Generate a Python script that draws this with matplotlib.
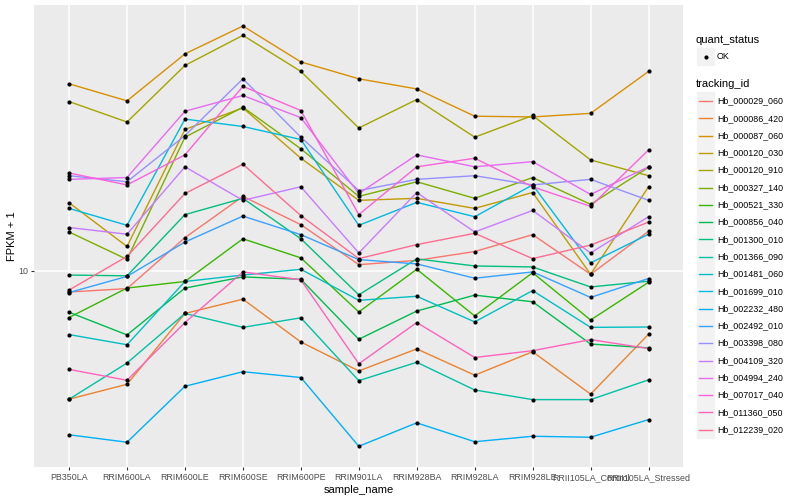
import numpy as np
import matplotlib
matplotlib.use("Agg")
import matplotlib.pyplot as plt
from matplotlib.lines import Line2D
from matplotlib.patches import Rectangle
from matplotlib.ticker import NullLocator

plt.rcParams['font.family'] = ['Liberation Sans', 'DejaVu Sans']

samples = ["PB350LA", "RRIM600LA", "RRIM600LE", "RRIM600SE", "RRIM600PE", "RRIM901LA",
           "RRIM928BA", "RRIM928LA", "RRIM928LE", "RRII105LA_Control", "RRII105LA_Stressed"]

# FPKM + 1 por gen
hb_000029_060 = [9.21, 9.33, 11.35, 13.3, 11.93, 10.23, 10.4, 10.76, 11.48, 9.86, 11.63]
hb_000086_420 = [6.10, 6.46, 8.48, 8.96, 7.60, 6.80, 7.40, 6.69, 7.32, 6.22, 7.83]
hb_000087_060 = [20.5, 19.2, 23.0, 25.6, 22.3, 20.9, 20.1, 18.1, 18.05, 18.3, 21.5]
hb_000120_030 = [12.98, 10.97, 17.2, 18.69, 15.4, 13.1, 13.2, 12.7, 13.5, 9.86, 13.8]
hb_000120_910 = [19.15, 17.7, 22.0, 24.7, 21.5, 17.3, 19.3, 16.7, 18.15, 15.3, 14.4]
hb_000327_140 = [11.6, 10.44, 16.7, 18.74, 15.97, 13.3, 14.07, 13.2, 14.3, 12.9, 14.87]
hb_000521_330 = [8.35, 9.35, 9.59, 11.3, 10.5, 8.53, 10.05, 8.40, 9.92, 8.27, 9.56]
hb_000856_040 = [8.52, 7.81, 9.35, 9.76, 9.67, 7.68, 8.56, 9.10, 8.87, 7.54, 7.43]
hb_001300_010 = [9.83, 9.80, 12.4, 13.2, 11.3, 9.11, 10.46, 10.18, 10.14, 9.39, 9.60]
hb_001366_090 = [6.10, 7.01, 8.48, 8.04, 8.34, 6.55, 7.03, 6.32, 6.09, 6.09, 6.57]
hb_001481_060 = [7.82, 7.52, 9.59, 9.83, 10.05, 8.92, 9.06, 8.21, 9.26, 8.04, 8.05]
hb_001699_010 = [12.7, 11.9, 17.9, 17.4, 16.55, 11.9, 13.0, 12.3, 13.9, 10.3, 11.5]
hb_002232_480 = [5.32, 5.17, 6.41, 6.78, 6.63, 5.09, 5.57, 5.18, 5.29, 5.27, 5.64]
hb_002492_010 = [9.19, 9.78, 11.16, 12.33, 11.48, 10.43, 10.26, 9.71, 9.95, 9.02, 9.70]
hb_003398_080 = [14.4, 14.07, 16.8, 20.9, 16.7, 13.6, 14.2, 14.4, 13.9, 14.2, 13.1]
hb_004109_320 = [11.8, 11.5, 14.9, 13.1, 13.8, 10.7, 13.5, 11.6, 12.6, 10.7, 12.3]
hb_004994_240 = [14.2, 14.3, 18.45, 19.6, 18.0, 13.45, 15.6, 14.9, 15.2, 13.4, 14.9]
hb_007017_040 = [14.55, 13.9, 15.6, 20.3, 18.5, 12.4, 14.9, 15.4, 13.8, 12.8, 15.9]
hb_011360_050 = [6.84, 6.56, 8.19, 9.95, 9.65, 6.99, 8.19, 7.16, 7.35, 7.67, 7.41]
hb_012239_020 = [9.28, 10.56, 13.45, 15.05, 12.35, 10.47, 11.05, 11.54, 10.47, 11.03, 12.05]

genes = ["Hb_000029_060", "Hb_000086_420", "Hb_000087_060", "Hb_000120_030", "Hb_000120_910",
         "Hb_000327_140", "Hb_000521_330", "Hb_000856_040", "Hb_001300_010", "Hb_001366_090",
         "Hb_001481_060", "Hb_001699_010", "Hb_002232_480", "Hb_002492_010", "Hb_003398_080",
         "Hb_004109_320", "Hb_004994_240", "Hb_007017_040", "Hb_011360_050", "Hb_012239_020"]
series = [hb_000029_060, hb_000086_420, hb_000087_060, hb_000120_030, hb_000120_910,
          hb_000327_140, hb_000521_330, hb_000856_040, hb_001300_010, hb_001366_090,
          hb_001481_060, hb_001699_010, hb_002232_480, hb_002492_010, hb_003398_080,
          hb_004109_320, hb_004994_240, hb_007017_040, hb_011360_050, hb_012239_020]

# paleta tipo ggplot (hue_pal, 20 colores)
colores = ["#F8766D", "#EA8331", "#D89000", "#C09B00", "#A3A500", "#7CAE00", "#39B600",
           "#00BB4E", "#00BF7D", "#00C1A3", "#00BFC4", "#00BAE0", "#00B0F6", "#35A2FF",
           "#9590FF", "#C77CFF", "#E76BF3", "#FA62DB", "#FF62BC", "#FF6C91"]

W, H = 800, 500
fig = plt.figure(figsize=(8, 5), dpi=100)
ax = fig.add_axes([34.3 / W, 1 - 467.3 / H, (683.3 - 34.3) / W, (467.3 - 5) / H])
ax.set_facecolor("#EBEBEB")

x = np.arange(len(samples))
for vals, col in zip(series, colores):
    ax.plot(x, vals, color=col, lw=1.0, zorder=2)
for vals in series:
    ax.plot(x, vals, "o", color="black", ms=3.0, mew=0, zorder=3)

ax.set_yscale("log")
todos = np.concatenate([np.array(v) for v in series])
lo, hi = np.log10(todos.min()), np.log10(todos.max())
pad = 0.05 * (hi - lo)
ax.set_ylim(10 ** (lo - pad), 10 ** (hi + pad))
ax.set_xlim(-0.6, len(samples) - 0.4)

ax.set_yticks([10])
ax.set_yticklabels(["10"])
ax.yaxis.set_minor_locator(NullLocator())
ax.set_xticks(x)
ax.set_xticklabels(samples)

ax.grid(True, color="white", lw=1.1)
ax.set_axisbelow(True)
for s in ax.spines.values():
    s.set_visible(False)
ax.tick_params(axis="both", colors="#333333", labelcolor="#4D4D4D", labelsize=6.4,
               length=2.2, width=0.8, pad=1.8)
ax.set_xlabel("sample_name", fontsize=8, labelpad=2)
ax.set_ylabel("FPKM + 1", fontsize=8, labelpad=1)


def fx(px):
    return px / W


def fy(py):
    return 1 - py / H


# leyenda manual estilo ggplot
key = 17.3
fig.text(fx(696), fy(40), "quant_status", fontsize=8, va="center", ha="left")
fig.patches.append(Rectangle((fx(697), fy(56.7 + key / 2)), key / W, key / H,
                             transform=fig.transFigure, color="#F2F2F2", zorder=1))
fig.lines.append(Line2D([fx(705.5)], [fy(56.7)], marker="o", color="black", ms=3.0, mew=0,
                        transform=fig.transFigure))
fig.text(fx(717), fy(56.7), "OK", fontsize=6.4, va="center", ha="left")

fig.text(fx(696), fy(84), "tracking_id", fontsize=8, va="center", ha="left")
for i, (gen, col) in enumerate(zip(genes, colores)):
    yc = 101 + key * i
    fig.patches.append(Rectangle((fx(697), fy(yc + key / 2)), key / W, key / H,
                                 transform=fig.transFigure, color="#F2F2F2", zorder=1))
    fig.lines.append(Line2D([fx(699), fx(712)], [fy(yc), fy(yc)], color=col, lw=1.0,
                            transform=fig.transFigure))
    fig.text(fx(717), fy(yc), gen, fontsize=6.4, va="center", ha="left")

fig.savefig("out.png", dpi=100)
